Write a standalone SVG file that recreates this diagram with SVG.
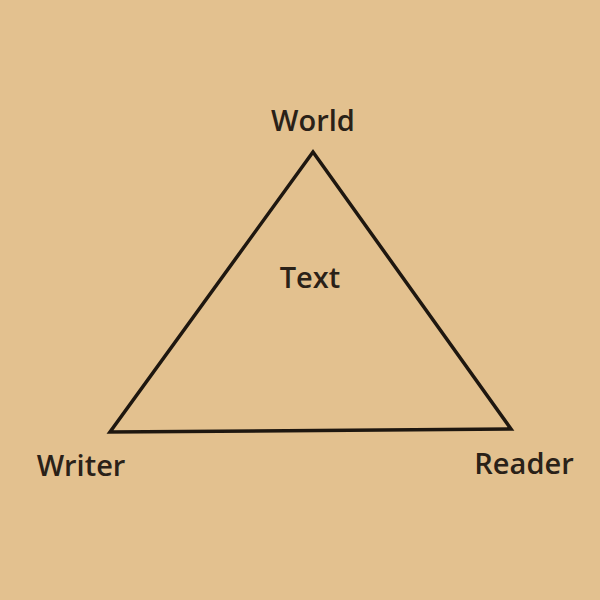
<svg xmlns="http://www.w3.org/2000/svg" width="600" height="600" viewBox="0 0 600 600">
<style>
.lbl{font-family:"Open Sans","Liberation Sans",sans-serif;font-size:29px;font-weight:600;fill:#2a2118;text-anchor:middle}
.edge{stroke:#1e1710;stroke-width:3.5;fill:none;stroke-linejoin:miter}
</style>
<rect width="600" height="600" fill="#E3C18F"/>
<g id="connectors">
<path class="edge" d="M313,152 L511,429 L110,432 Z"/>
</g>
<g id="world"><text class="lbl" x="313" y="131">World</text></g>
<g id="text"><text class="lbl" x="310" y="288">Text</text></g>
<g id="writer"><text class="lbl" x="81" y="476">Writer</text></g>
<g id="reader"><text class="lbl" x="524" y="474">Reader</text></g>
</svg>
